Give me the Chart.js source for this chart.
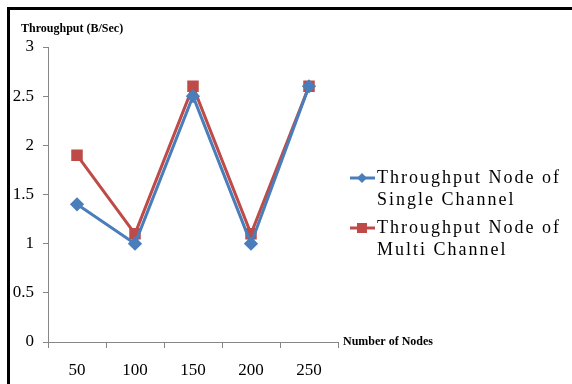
<!DOCTYPE html>
<html>
<head>
<meta charset="utf-8">
<script src="https://cdn.jsdelivr.net/npm/chart.js@4.4.1/dist/chart.umd.min.js"></script>
<style>
  body { margin: 0; background: #fff; }
  #wrap { position: relative; width: 572px; height: 384px; overflow: hidden; }
  #frame { position: absolute; left: 7px; top: 7px; width: 600px; height: 400px;
           border-left: 3px solid #000; border-top: 3px solid #000; pointer-events: none; }
  canvas { position: absolute; left: 0; top: 0; }
</style>
</head>
<body>
<div id="wrap">
  <canvas id="chart" width="572" height="384"></canvas>
  <div id="frame"></div>
</div>
<script>
// data
const nodes = ['50', '100', '150', '200', '250'];
const singleChannel = [1.4, 1.0, 2.5, 1.0, 2.6];
const multiChannel = [1.9, 1.1, 2.6, 1.1, 2.6];
const yTicks = [0, 0.5, 1, 1.5, 2, 2.5, 3];

const serif = '"Liberation Serif", "Times New Roman", serif';
const axisGrey = '#868686';

// axis titles + two-line legend, drawn on the canvas
const extras = {
    id: 'extras',
    afterDraw(chart) {
        const ctx = chart.ctx;
        const x = chart.scales.x, y = chart.scales.y;
        ctx.save();
        ctx.fillStyle = '#000';
        ctx.font = 'bold 12px ' + serif;
        ctx.textBaseline = 'middle';
        ctx.textAlign = 'left';
        ctx.fillText('Throughput (B/Sec)', 21, 29);
        ctx.fillText('Number of Nodes', x.right + 5, y.bottom);

        // legend
        let ly = 178;
        chart.data.datasets.forEach(ds => {
            ctx.strokeStyle = ds.borderColor;
            ctx.lineWidth = 3;
            ctx.beginPath();
            ctx.moveTo(350, ly);
            ctx.lineTo(375, ly);
            ctx.stroke();
            ctx.fillStyle = ds.backgroundColor;
            if (ds.pointStyle === 'rect') {
                ctx.fillRect(357, ly - 5, 10, 10);
            } else {
                ctx.beginPath();
                ctx.moveTo(362, ly - 5);
                ctx.lineTo(367, ly);
                ctx.lineTo(362, ly + 5);
                ctx.lineTo(357, ly);
                ctx.closePath();
                ctx.fill();
            }
            ctx.fillStyle = '#000';
            ctx.font = '18px ' + serif;
            ctx.letterSpacing = '2px';
            ds.label.forEach((line, i) => ctx.fillText(line, 377, ly + i * 22));
            ctx.letterSpacing = '0px';
            ly += 50;
        });
        ctx.restore();
    }
};

new Chart(document.getElementById('chart'), {
    type: 'line',
    data: {
        labels: nodes,
        datasets: [{
            label: ['Throughput Node of', 'Single Channel'],
            data: singleChannel,
            borderColor: '#4A7EBB',
            backgroundColor: '#4A7EBB',
            borderWidth: 3,
            pointStyle: 'rectRot',
            pointRadius: 5,
            pointHoverRadius: 5
        }, {
            label: ['Throughput Node of', 'Multi Channel'],
            data: multiChannel,
            borderColor: '#BE4B48',
            backgroundColor: '#BE4B48',
            borderWidth: 3,
            pointStyle: 'rect',
            pointRadius: 6,
            pointHoverRadius: 6
        }]
    },
    options: {
        responsive: false,
        animation: false,
        layout: { padding: { left: 0, top: 47, right: 234, bottom: 0 } },
        plugins: {
            legend: { display: false },
            tooltip: { enabled: false }
        },
        scales: {
            x: {
                offset: true,
                grid: { display: true, offset: true, drawOnChartArea: false, tickLength: 6, color: axisGrey },
                border: { color: axisGrey, width: 1 },
                ticks: { color: '#000', font: { family: serif, size: 17 }, padding: 12 },
                afterFit(scale) { scale.height = 42; }
            },
            y: {
                min: 0,
                max: 3,
                afterBuildTicks(scale) { scale.ticks = yTicks.map(v => ({ value: v })); },
                grid: { drawOnChartArea: false, tickLength: 5, color: axisGrey },
                border: { color: axisGrey, width: 1 },
                ticks: {
                    color: '#000',
                    font: { family: serif, size: 17 },
                    padding: 9,
                    callback: v => String(v)
                },
                afterFit(scale) { scale.width = 48; }
            }
        }
    },
    plugins: [extras]
});
</script>
</body>
</html>
